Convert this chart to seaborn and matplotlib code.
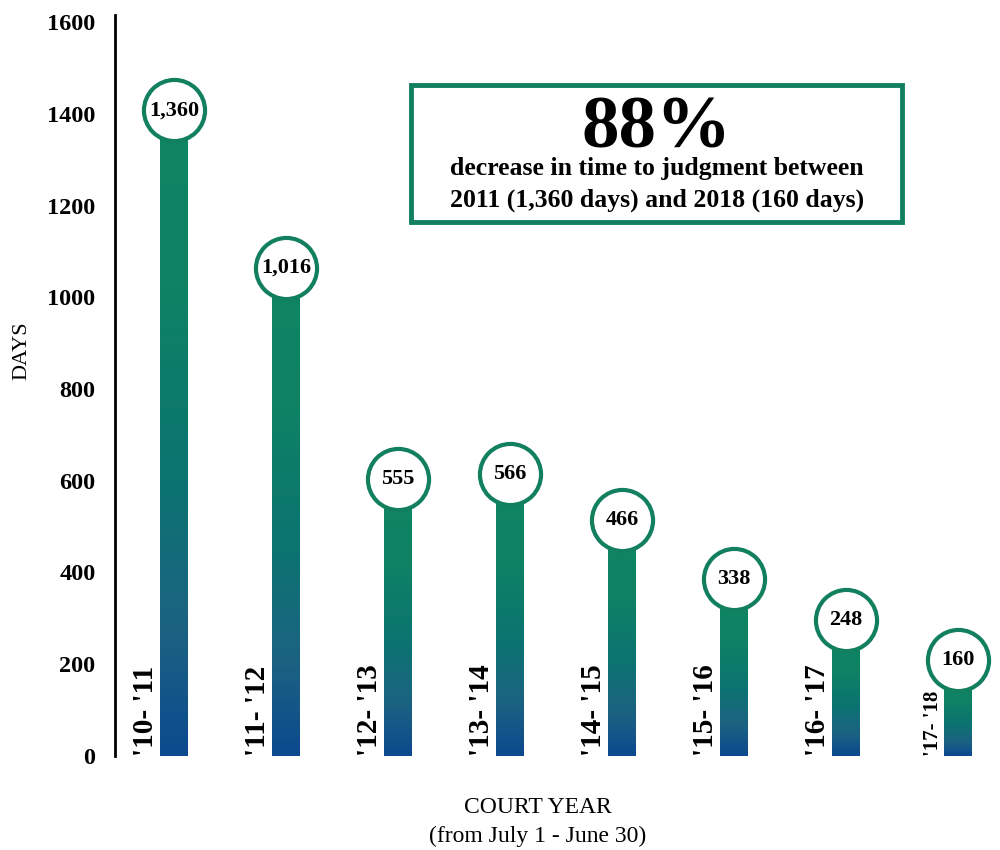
import numpy as np
import matplotlib
matplotlib.use("Agg")
import matplotlib.pyplot as plt
import seaborn as sns
from matplotlib.colors import LinearSegmentedColormap
from matplotlib.patches import Rectangle

# data
years = ["'10- '11", "'11- '12", "'12- '13", "'13- '14", "'14- '15", "'15- '16", "'16- '17", "'17- '18"]
days = [1360, 1016, 555, 566, 466, 338, 248, 160]
day_labels = ["1,360", "1,016", "555", "566", "466", "338", "248", "160"]
yticks = [0, 200, 400, 600, 800, 1000, 1200, 1400, 1600]

green = "#12805f"
grad = LinearSegmentedColormap.from_list(
    "court", [(0, "#0a4a8e"), (0.2, "#1c6282"), (0.45, "#0b7470"), (0.75, "#0e8264"), (1, "#0f8563")])

sns.set_style("white")
plt.rcParams["font.family"] = ["Liberation Serif", "DejaVu Serif"]
plt.rcParams["text.color"] = "black"
plt.rcParams["ytick.color"] = "black"

fig = plt.figure(figsize=(10, 8.5), dpi=100)
ax = fig.add_axes([0.115, 0.111, 0.885, 0.871])

sns.barplot(x=years, y=days, color=green, width=0.25, ax=ax)

# gradient fill inside each bar
img = np.linspace(0, 1, 256).reshape(-1, 1)
for p in ax.patches:
    x0, y0 = p.get_x(), p.get_y()
    w, h = p.get_width(), p.get_height()
    p.set_facecolor("none")
    im = ax.imshow(img, cmap=grad, origin="lower", aspect="auto",
                   extent=[x0, x0 + w, y0, y0 + h], zorder=2)
    im.set_clip_path(p)
ax.set_xlim(-0.527, 7.375)
ax.set_ylim(0, 1615)

# value bubbles
for i, (v, lab) in enumerate(zip(days, day_labels)):
    cy = v + 48
    ax.plot(i, cy, marker="o", ms=44, mfc="white", mec=green, mew=3, zorder=4, clip_on=False)
    ax.text(i, cy, lab, ha="center", va="center", fontsize=16, fontweight="bold", zorder=5)

# rotated year labels beside the bars
for i, lab in enumerate(years):
    small = i == len(years) - 1
    ax.text(i - 0.135, 0, lab, rotation=90, ha="right", va="bottom",
            fontsize=15 if small else 21, fontweight="bold", zorder=3)

ax.set_xticks([])
ax.set_yticks(yticks)
ax.set_yticklabels([str(t) for t in yticks], fontsize=17.5, fontweight="bold")
ax.tick_params(axis="y", length=0, pad=14)
ax.set_xlabel("")
ax.set_ylabel("")
for s in ["top", "right", "bottom"]:
    ax.spines[s].set_visible(False)
ax.spines["left"].set_linewidth(2)
ax.spines["left"].set_color("black")

fig.text(0.022, 0.588, "DAYS", rotation=90, ha="center", va="center", fontsize=16)
fig.text(0.538, 0.050, "COURT YEAR", ha="center", va="center", fontsize=17)
fig.text(0.538, 0.016, "(from July 1 - June 30)", ha="center", va="center", fontsize=17)

# callout box
fig.patches.append(Rectangle((0.411, 0.739), 0.491, 0.161, transform=fig.transFigure,
                             facecolor="white", edgecolor=green, linewidth=3.5, zorder=6))
fig.text(0.657, 0.827, "88%", ha="center", va="baseline", fontsize=54, fontweight="bold", zorder=7)
fig.text(0.657, 0.802, "decrease in time to judgment between", ha="center", va="center",
         fontsize=18.5, fontweight="bold", zorder=7)
fig.text(0.657, 0.764, "2011 (1,360 days) and 2018 (160 days)", ha="center", va="center",
         fontsize=18.5, fontweight="bold", zorder=7)

fig.savefig("out.png", dpi=100)
